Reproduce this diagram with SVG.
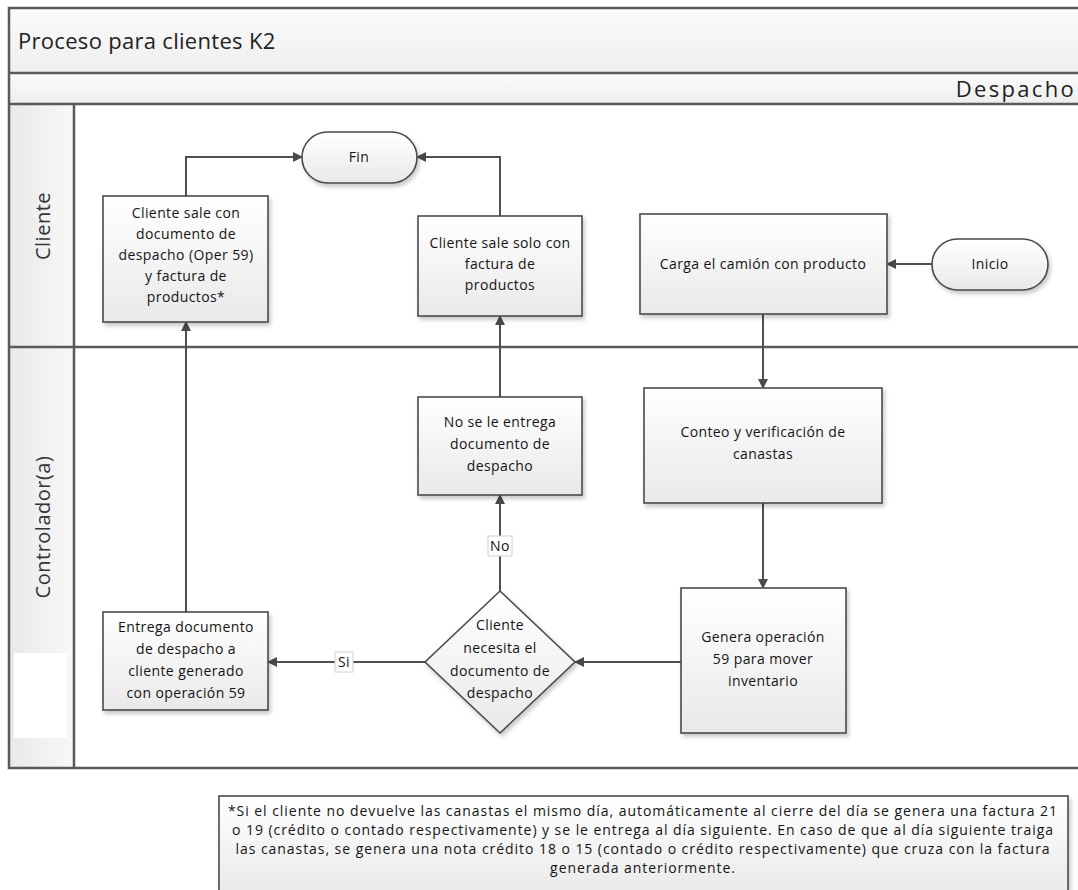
<svg xmlns="http://www.w3.org/2000/svg" width="1078" height="890" viewBox="0 0 1078 890">
<defs>
  <linearGradient id="boxGrad" x1="0" y1="0" x2="0" y2="1">
    <stop offset="0" stop-color="#ffffff"/>
    <stop offset="1" stop-color="#e9e9e9"/>
  </linearGradient>
  <linearGradient id="bandGrad" x1="0" y1="0" x2="0" y2="1">
    <stop offset="0" stop-color="#fbfbfb"/>
    <stop offset="1" stop-color="#eeeeee"/>
  </linearGradient>
  <linearGradient id="colGrad" x1="0" y1="0" x2="1" y2="0">
    <stop offset="0" stop-color="#e9e9e9"/>
    <stop offset="1" stop-color="#f8f8f8"/>
  </linearGradient>
  <filter id="shadow" x="-10%" y="-10%" width="130%" height="130%">
    <feDropShadow dx="2" dy="3" stdDeviation="2" flood-color="#000" flood-opacity="0.22"/>
  </filter>
  <marker id="arrow" viewBox="0 0 10 10" refX="9" refY="5" markerWidth="5" markerHeight="5" markerUnits="strokeWidth" orient="auto">
    <path d="M0,0 L10,5 L0,10 z" fill="#4a4a4a"/>
  </marker>
  <style>
    .box { fill: url(#boxGrad); stroke: #4a4a4a; stroke-width: 1.6; filter: url(#shadow); }
    .t { font-family: "Open Sans", "Liberation Sans", sans-serif; font-size: 14px; letter-spacing: 0.4px; fill: #141414; text-anchor: middle; }
    .n { font-size: 14px; letter-spacing: 0.95px; }
    .conn { stroke: #4f4f4f; stroke-width: 2; fill: none; marker-end: url(#arrow); }
    .frame { stroke: #5a5a5a; stroke-width: 2.5; fill: none; }
    .lane { font-family: "Open Sans", "Liberation Sans", sans-serif; font-size: 20px; letter-spacing: 0.5px; fill: #333; text-anchor: middle; }
    .head { font-family: "Open Sans", "Liberation Sans", sans-serif; font-size: 22px; fill: #222; }
    .lbl { fill: #ffffff; stroke: #d0d0d0; stroke-width: 1; }
  </style>
</defs>

<rect width="1078" height="890" fill="#ffffff"/>

<g id="pool">
  <rect x="9" y="8" width="1075" height="65" fill="url(#bandGrad)"/>
  <rect x="9" y="73" width="1075" height="31" fill="url(#bandGrad)"/>
  <rect x="9" y="104" width="65" height="664" fill="url(#colGrad)"/>
  <rect x="14" y="653" width="53" height="85" fill="#ffffff"/>
  <rect x="74" y="104" width="1010" height="664" fill="#ffffff"/>
  <path class="frame" d="M1084,8 H9 V768 H1084 M9,73 H1084 M9,104 H1084 M9,347 H1084 M74,104 V768"/>
  <text class="head" x="18" y="49" letter-spacing="0.3">Proceso para clientes K2</text>
  <text class="head" x="1076" y="97" letter-spacing="2.3" text-anchor="end">Despacho</text>
  <text class="lane" transform="translate(50,226) rotate(-90)">Cliente</text>
  <text class="lane" transform="translate(50,527) rotate(-90)">Controlador(a)</text>
</g>

<g id="connectors">
  <path class="conn" d="M932,264 H887"/>
  <path class="conn" d="M763,314 V388"/>
  <path class="conn" d="M763,503 V588"/>
  <path class="conn" d="M681,662 H575"/>
  <path class="conn" d="M500,591 V495"/>
  <path class="conn" d="M500,397 V316"/>
  <path class="conn" d="M425,662 H268"/>
  <path class="conn" d="M186,612 V322"/>
  <path class="conn" d="M186,196 V157 H302"/>
  <path class="conn" d="M500,216 V157 H417"/>
  <g id="label-no">
    <rect class="lbl" x="488" y="536" width="24" height="20"/>
    <text class="t" x="500" y="551">No</text>
  </g>
  <g id="label-si">
    <rect class="lbl" x="335" y="652" width="18" height="20"/>
    <text class="t" x="344" y="667">Si</text>
  </g>
</g>

<g id="inicio">
  <rect class="box" x="932" y="239" width="116" height="51" rx="25.5"/>
  <text class="t" x="990" y="269">Inicio</text>
</g>

<g id="fin">
  <rect class="box" x="302" y="132" width="115" height="51" rx="25.5"/>
  <text class="t" x="359" y="162">Fin</text>
</g>

<g id="carga">
  <rect class="box" x="640" y="214" width="247" height="100"/>
  <text class="t" x="763" y="269">Carga el camión con producto</text>
</g>

<g id="conteo">
  <rect class="box" x="644" y="388" width="238" height="115"/>
  <text class="t" x="763" y="437">Conteo y verificación de</text>
  <text class="t" x="763" y="459">canastas</text>
</g>

<g id="genera">
  <rect class="box" x="681" y="588" width="165" height="145"/>
  <text class="t" x="763" y="642">Genera operación</text>
  <text class="t" x="763" y="664">59 para mover</text>
  <text class="t" x="763" y="686">inventario</text>
</g>

<g id="decision">
  <polygon class="box" points="500,591 575,662 500,733 425,662"/>
  <text class="t" x="500" y="630">Cliente</text>
  <text class="t" x="500" y="653">necesita el</text>
  <text class="t" x="500" y="676">documento de</text>
  <text class="t" x="500" y="698">despacho</text>
</g>

<g id="no-entrega">
  <rect class="box" x="418" y="397" width="164" height="98"/>
  <text class="t" x="500" y="427">No se le entrega</text>
  <text class="t" x="500" y="449">documento de</text>
  <text class="t" x="500" y="471">despacho</text>
</g>

<g id="sale-solo">
  <rect class="box" x="418" y="216" width="164" height="100"/>
  <text class="t" x="500" y="248">Cliente sale solo con</text>
  <text class="t" x="500" y="269">factura de</text>
  <text class="t" x="500" y="290">productos</text>
</g>

<g id="entrega">
  <rect class="box" x="103" y="612" width="165" height="98"/>
  <text class="t" x="186" y="632">Entrega documento</text>
  <text class="t" x="186" y="654">de despacho a</text>
  <text class="t" x="186" y="676">cliente generado</text>
  <text class="t" x="186" y="698">con operación 59</text>
</g>

<g id="sale-con">
  <rect class="box" x="103" y="196" width="165" height="126"/>
  <text class="t" x="186" y="218">Cliente sale con</text>
  <text class="t" x="186" y="239">documento de</text>
  <text class="t" x="186" y="260">despacho (Oper 59)</text>
  <text class="t" x="186" y="281">y factura de</text>
  <text class="t" x="186" y="302">productos*</text>
</g>

<g id="nota">
  <rect class="box" x="219" y="796" width="849" height="100"/>
  <text class="t n" x="643" y="816">*Si el cliente no devuelve las canastas el mismo día, automáticamente al cierre del día se genera una factura 21</text>
  <text class="t n" x="643" y="835">o 19 (crédito o contado respectivamente) y se le entrega al día siguiente. En caso de que al día siguiente traiga</text>
  <text class="t n" x="643" y="854">las canastas, se genera una nota crédito 18 o 15 (contado o crédito respectivamente) que cruza con la factura</text>
  <text class="t n" x="643" y="873">generada anteriormente.</text>
</g>
</svg>
